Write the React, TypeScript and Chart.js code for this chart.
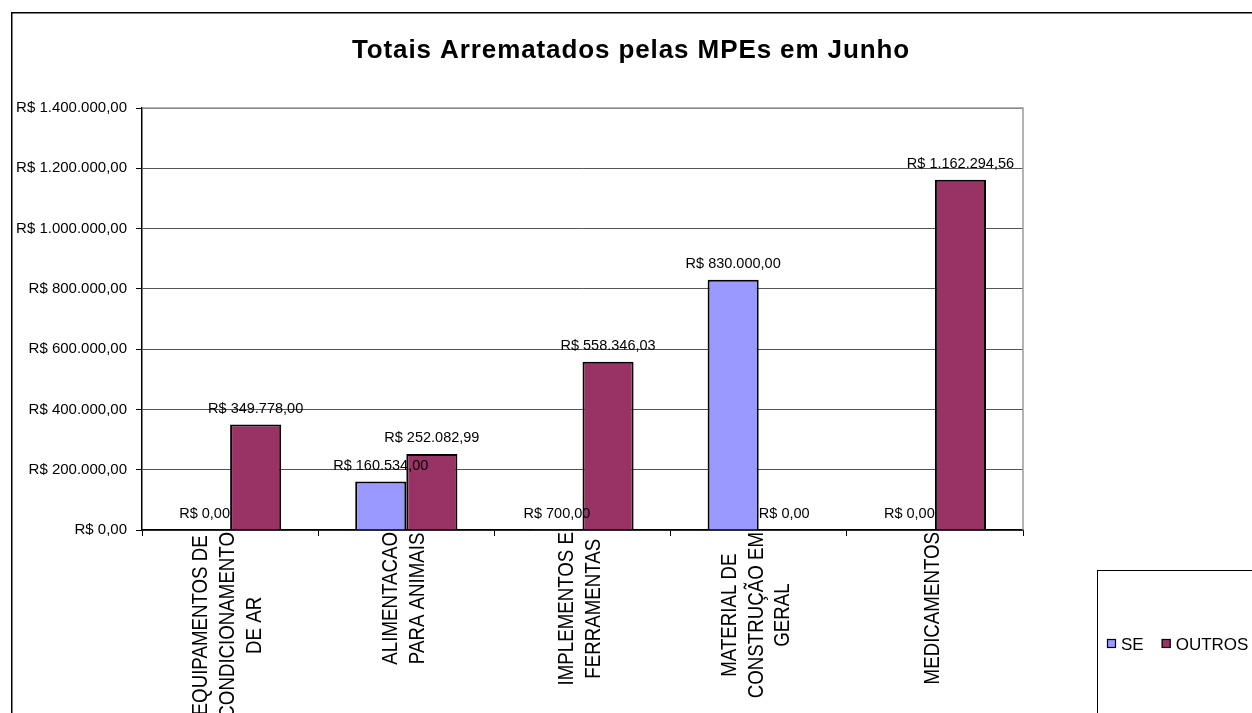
import React, { useEffect, useRef } from "react";
import { Chart, registerables } from "chart.js";

Chart.register(...registerables);

const TITLE = "Totais Arrematados pelas MPEs em Junho";
const categories: string[][] = [
  ["EQUIPAMENTOS DE", "CONDICIONAMENTO", "DE AR"],
  ["ALIMENTACAO", "PARA ANIMAIS"],
  ["IMPLEMENTOS E", "FERRAMENTAS"],
  ["MATERIAL DE", "CONSTRUÇÃO EM", "GERAL"],
  ["MEDICAMENTOS"],
];
const seValues = [0, 160534.0, 700.0, 830000.0, 0];
const outrosValues = [349778.0, 252082.99, 558346.03, 0, 1162294.56];
const seriesNames = ["SE", "OUTROS"];
const seriesColors = ["#9999FF", "#993366"];
const yMin = 0;
const yMax = 1400000;
const yStep = 200000;

const FONT = '"Liberation Sans", Arial, Helvetica, sans-serif';

function brl(v: number): string {
  const [i, d] = v.toFixed(2).split(".");
  const withDots = i.replace(/\B(?=(\d{3})+(?!\d))/g, ".");
  return "R$ " + withDots + "," + d;
}

const decorPlugin = {
  id: "decor",
  beforeDraw(chart: any) {
    const ctx = chart.ctx;
    ctx.save();
    ctx.strokeStyle = "#000";
    ctx.lineWidth = 1.5;
    ctx.strokeRect(11.75, 12.75, 1400, 1000);
    ctx.restore();
  },
  beforeDatasetsDraw(chart: any) {
    const ctx = chart.ctx;
    const a = chart.chartArea;
    ctx.save();
    ctx.strokeStyle = "#9a9a9a";
    ctx.lineWidth = 1.5;
    ctx.beginPath();
    ctx.moveTo(a.left, a.top);
    ctx.lineTo(a.right, a.top);
    ctx.lineTo(a.right, a.bottom);
    ctx.stroke();
    ctx.restore();
  },
  afterDatasetsDraw(chart: any) {
    const ctx = chart.ctx;
    ctx.save();
    ctx.fillStyle = "#000";
    ctx.font = "14.5px " + FONT;
    ctx.textAlign = "center";
    ctx.textBaseline = "alphabetic";
    chart.data.datasets.forEach((ds: any, di: number) => {
      const meta = chart.getDatasetMeta(di);
      meta.data.forEach((el: any, i: number) => {
        ctx.fillText(brl(ds.data[i]), el.x, el.y - 12);
      });
    });
    ctx.restore();
  },
  afterDraw(chart: any) {
    const ctx = chart.ctx;
    const xs = chart.scales.x;
    // title
    ctx.save();
    ctx.fillStyle = "#000";
    ctx.font = "bold 26px " + FONT;
    (ctx as any).letterSpacing = "0.9px";
    ctx.textAlign = "center";
    ctx.textBaseline = "alphabetic";
    ctx.fillText(TITLE, 631, 58);
    ctx.restore();

    // category labels (rotated, centered lines)
    const sx = 0.85;
    const lineH = 26.7;
    ctx.save();
    ctx.fillStyle = "#000";
    ctx.font = "22px " + FONT;
    chart.data.labels.forEach((lines: string[], i: number) => {
      const x = xs.getPixelForValue(i) - 2;
      const maxW = Math.max(...lines.map((l) => ctx.measureText(l).width)) * sx;
      const cy = xs.top + 2 + maxW / 2;
      ctx.save();
      ctx.translate(x, cy);
      ctx.rotate(-Math.PI / 2);
      ctx.scale(sx, 1);
      ctx.textAlign = "center";
      ctx.textBaseline = "middle";
      lines.forEach((l, j) => {
        ctx.fillText(l, 0, (j - (lines.length - 1) / 2) * lineH);
      });
      ctx.restore();
    });
    ctx.restore();

    // legend box
    ctx.save();
    ctx.strokeStyle = "#000";
    ctx.lineWidth = 1;
    ctx.strokeRect(1097.5, 570.5, 400, 400);
    ctx.font = "17px " + FONT;
    ctx.textBaseline = "middle";
    ctx.textAlign = "left";
    let lx = 1107;
    const ly = 644;
    chart.data.datasets.forEach((ds: any) => {
      ctx.fillStyle = ds.backgroundColor;
      ctx.fillRect(lx, ly - 5, 9, 9);
      ctx.strokeStyle = "#000";
      ctx.lineWidth = 1.2;
      ctx.strokeRect(lx + 0.5, ly - 4.5, 8, 8);
      ctx.fillStyle = "#000";
      ctx.fillText(ds.label, lx + 14, ly + 1);
      lx += 14 + ctx.measureText(ds.label).width + 18;
    });
    ctx.restore();
  },
};

export default function App() {
  const ref = useRef<HTMLCanvasElement | null>(null);
  useEffect(() => {
    if (!ref.current) return;
    const chart = new Chart(ref.current, {
      type: "bar",
      data: {
        labels: categories as any,
        datasets: [
          {
            label: seriesNames[0],
            data: seValues,
            backgroundColor: seriesColors[0],
            borderColor: "#000",
            borderWidth: 2,
          },
          {
            label: seriesNames[1],
            data: outrosValues,
            backgroundColor: seriesColors[1],
            borderColor: "#000",
            borderWidth: 2,
          },
        ],
      },
      options: {
        responsive: false,
        animation: false,
        devicePixelRatio: 1,
        layout: { padding: { left: 0, top: 108, right: 229, bottom: 0 } },
        datasets: { bar: { barPercentage: 1, categoryPercentage: 0.58 } },
        plugins: {
          legend: { display: false },
          title: { display: false },
          tooltip: { enabled: false },
        },
        scales: {
          x: {
            grid: {
              offset: true,
              drawOnChartArea: false,
              drawTicks: true,
              tickLength: 6,
              color: "#000",
              tickColor: "#000",
            },
            border: { color: "#000", width: 1.5 },
            ticks: { display: false },
            afterFit: (axis: any) => {
              axis.height = 183;
            },
          },
          y: {
            min: yMin,
            max: yMax,
            ticks: {
              stepSize: yStep,
              callback: (v: any) => brl(Number(v)),
              color: "#000",
              font: { size: 15, family: FONT },
              padding: 9,
            },
            grid: {
              color: "#555",
              tickColor: "#000",
              tickLength: 6,
              lineWidth: 1,
            },
            border: { color: "#000", width: 1.5 },
            afterFit: (axis: any) => {
              axis.width = 142;
            },
          },
        },
      },
      plugins: [decorPlugin],
    });
    return () => chart.destroy();
  }, []);
  return (
    <div style={{ position: "fixed", left: 0, top: 0, width: 1252, height: 713, background: "#fff" }}>
      <canvas ref={ref} width={1252} height={713} style={{ display: "block" }} />
    </div>
  );
}
